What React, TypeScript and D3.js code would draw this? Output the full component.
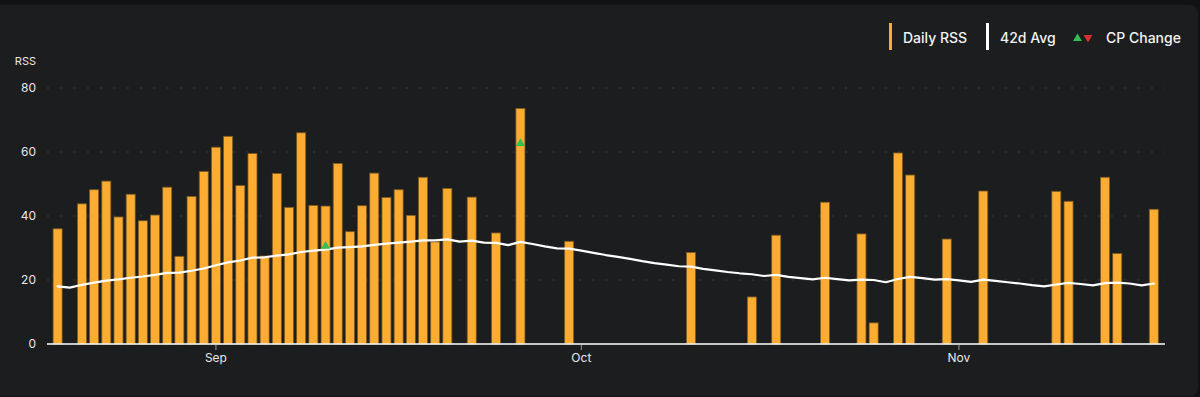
import React from "react";
import * as d3 from "d3";

const width = 1200;
const height = 397;
const margin = { left: 47, right: 35, top: 88, bottom: 53 };

// daily RSS (only days with a workout)
const rssDates = [
  "2023-08-19", "2023-08-21", "2023-08-22", "2023-08-23", "2023-08-24", "2023-08-25",
  "2023-08-26", "2023-08-27", "2023-08-28", "2023-08-29", "2023-08-30", "2023-08-31",
  "2023-09-01", "2023-09-02", "2023-09-03", "2023-09-04", "2023-09-05", "2023-09-06",
  "2023-09-07", "2023-09-08", "2023-09-09", "2023-09-10", "2023-09-11", "2023-09-12",
  "2023-09-13", "2023-09-14", "2023-09-15", "2023-09-16", "2023-09-17", "2023-09-18",
  "2023-09-19", "2023-09-20", "2023-09-22", "2023-09-24", "2023-09-26", "2023-09-30",
  "2023-10-10", "2023-10-15", "2023-10-17", "2023-10-21", "2023-10-24", "2023-10-25",
  "2023-10-27", "2023-10-28", "2023-10-31", "2023-11-03", "2023-11-09", "2023-11-10",
  "2023-11-13", "2023-11-14", "2023-11-17",
];
const rssValues = [
  36.0, 43.8, 48.2, 50.9, 39.7, 46.8,
  38.5, 40.3, 49.0, 27.4, 46.1, 53.9,
  61.5, 64.9, 49.5, 59.5, 27.5, 53.3,
  42.7, 66.0, 43.3, 43.1, 56.4, 35.1,
  43.2, 53.4, 45.8, 48.2, 40.2, 52.1,
  31.9, 48.6, 45.9, 34.7, 73.6, 32.1,
  28.6, 14.7, 34.0, 44.3, 34.4, 6.6,
  59.7, 52.8, 32.8, 47.8, 47.7, 44.6,
  52.1, 28.3, 42.1,
];

// 42 day average, one value per day from Aug 19 to Nov 17
const avgStart = "2023-08-19";
const avgValues = [
  18.0, 17.6, 18.5, 19.2, 19.8, 20.2, 20.7, 21.1, 21.6, 22.2, 22.3, 22.9, 23.6,
  24.6, 25.5, 26.1, 27.0, 27.1, 27.6, 28.0, 28.75, 29.2, 29.5, 30.1, 30.3, 30.5, 31.0, 31.35,
  31.7, 32.0, 32.4, 32.4, 32.7, 32.0, 32.3, 31.7, 31.6, 30.9, 31.9, 31.25, 30.5, 29.9, 29.8,
  29.2, 28.5, 27.8, 27.2, 26.6, 25.9, 25.3, 24.8, 24.3, 24.2, 23.5, 23.0, 22.5, 22.1, 21.8,
  21.25, 21.6, 21.0, 20.6, 20.2, 20.7, 20.3, 19.9, 20.1, 20.0, 19.3, 20.3, 21.0, 20.6, 20.1, 20.3,
  19.9, 19.4, 20.1, 19.7, 19.3, 18.9, 18.4, 18.0, 18.6, 19.1, 18.75, 18.3, 19.0, 19.2, 18.9,
  18.3, 18.9,
];

// CP change markers
const cpDates = ["2023-09-10", "2023-09-26"];
const cpValues = [30.6, 62.7];
const cpDirections = ["up", "up"];

const yTicks = [0, 20, 40, 60, 80];
const xTickLabels = ["Sep", "Oct", "Nov"];
const xTickDates = ["2023-09-01", "2023-10-01", "2023-11-01"];

const parse = d3.utcParse("%Y-%m-%d");
const DAY = 864e5;

const colors = {
  page: "#111214",
  card: "#1c1d1f",
  bar: "#fdac32",
  barStroke: "#7c5a22",
  grid: "#3c3d40",
  text: "#e8e8e8",
  up: "#2fbf55",
  down: "#d6322d",
};

const font = "Inter, 'Noto Sans', sans-serif";

export default function App() {
  const bars = rssDates.map((d, i) => ({ date: parse(d) as Date, value: rssValues[i] }));
  const start = parse(avgStart) as Date;
  const avg = avgValues.map((v, i) => ({ date: new Date(start.getTime() + i * DAY), value: v }));
  const cps = cpDates.map((d, i) => ({ date: parse(d) as Date, value: cpValues[i], dir: cpDirections[i] }));

  const first = bars[0].date.getTime();
  const last = bars[bars.length - 1].date.getTime();
  const x = d3
    .scaleUtc()
    .domain([new Date(first - 0.87 * DAY), new Date(last + 0.92 * DAY)])
    .range([margin.left, width - margin.right]);
  const y = d3.scaleLinear().domain([0, 80]).range([height - margin.bottom, margin.top]);

  const dayW = x(new Date(first + DAY)) - x(new Date(first));
  const barW = dayW * 0.74;

  const line = d3
    .line<{ date: Date; value: number }>()
    .x((d) => x(d.date))
    .y((d) => y(d.value));

  const tri = d3.symbol().type(d3.symbolTriangle).size(34);

  const x0 = margin.left;
  const x1 = width - margin.right;

  return (
    <svg
      width={width}
      height={height}
      style={{ position: "fixed", left: 0, top: 0, display: "block" }}
      fontFamily={font}
    >
      <rect x={0} y={0} width={width} height={height} fill={colors.page} />
      <rect x={-12} y={5} width={width + 10} height={height - 6} rx={8} fill={colors.card} />

      {/* legend */}
      <g fontSize={14} fontWeight={500} fill="#f2f2f2">
        <rect x={889} y={23} width={3} height={27} fill={colors.bar} />
        <text x={903} y={43}>Daily RSS</text>
        <rect x={986} y={23} width={3} height={27} fill="#ffffff" />
        <text x={1000} y={43}>42d Avg</text>
        <path d={tri() as string} transform="translate(1077.5,38.5)" fill={colors.up} />
        <path d={tri() as string} transform="translate(1088,37.5) rotate(180)" fill={colors.down} />
        <text x={1106} y={43}>CP Change</text>
      </g>

      {/* y axis */}
      <text x={36} y={65} textAnchor="end" fontSize={11} fill={colors.text}>RSS</text>
      {yTicks.map((t) => (
        <g key={t}>
          <text x={36} y={y(t)} dy="0.35em" textAnchor="end" fontSize={12} fill={colors.text}>
            {t}
          </text>
          {t > 0 && (
            <line
              x1={x0}
              x2={x1}
              y1={y(t)}
              y2={y(t)}
              stroke={colors.grid}
              strokeWidth={1}
              strokeDasharray="2 11.3"
            />
          )}
        </g>
      ))}

      {/* bars */}
      {bars.map((b, i) => (
        <rect
          key={i}
          x={x(b.date) - barW / 2}
          y={y(b.value)}
          width={barW}
          height={y(0) - y(b.value)}
          fill={colors.bar}
          stroke={colors.barStroke}
          strokeWidth={0.8}
        />
      ))}

      {/* 42d avg */}
      <path
        d={line(avg) as string}
        fill="none"
        stroke="#ffffff"
        strokeWidth={2.2}
        strokeLinejoin="round"
        strokeLinecap="round"
      />

      {/* CP changes */}
      {cps.map((c, i) => (
        <path
          key={i}
          d={tri() as string}
          transform={`translate(${x(c.date)},${y(c.value)}) ${c.dir === "down" ? "rotate(180)" : ""}`}
          fill={c.dir === "down" ? colors.down : colors.up}
        />
      ))}

      {/* x axis */}
      <line x1={x0} x2={x1} y1={y(0)} y2={y(0)} stroke="#ffffff" strokeWidth={1.5} />
      {xTickDates.map((d, i) => {
        const px = x(parse(d) as Date);
        return (
          <g key={d}>
            <line x1={px} x2={px} y1={y(0) + 1} y2={y(0) + 6} stroke="#9a9a9a" strokeWidth={1} />
            <text x={px} y={362} textAnchor="middle" fontSize={12} fill={colors.text}>
              {xTickLabels[i]}
            </text>
          </g>
        );
      })}
    </svg>
  );
}
